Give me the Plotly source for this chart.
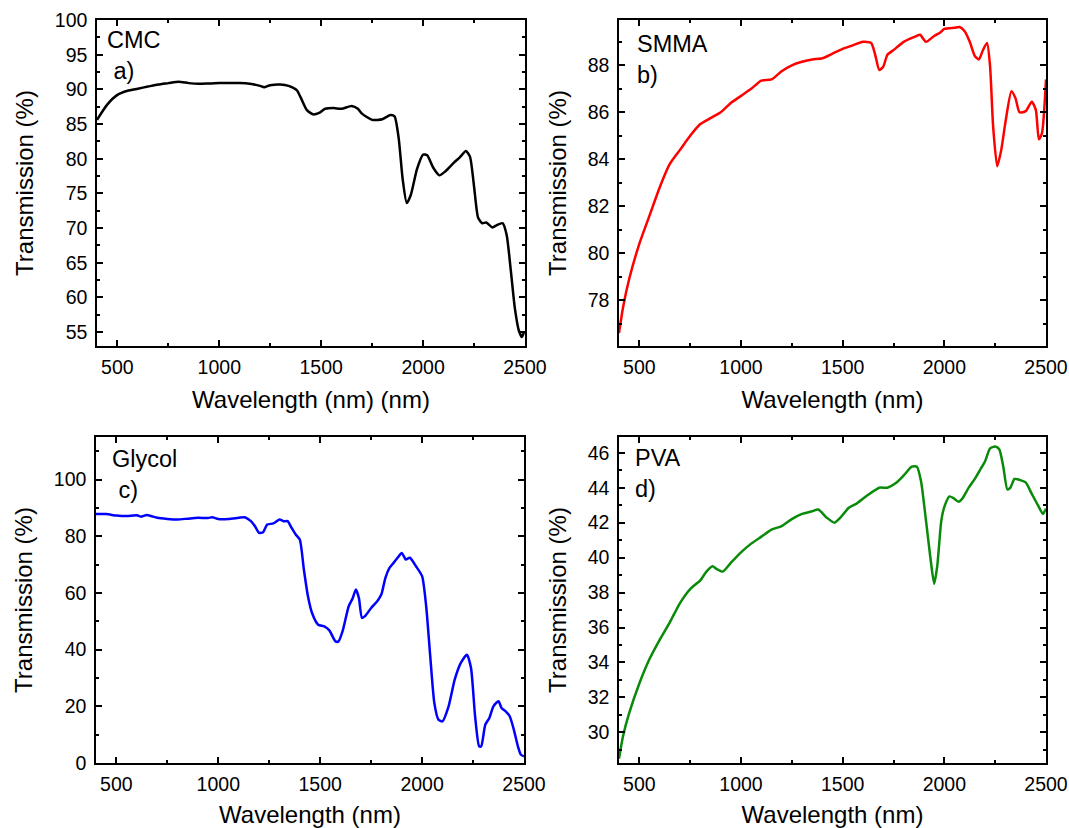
import plotly.graph_objects as go

# ---------------- data ----------------
cmc_wl = [400, 450, 500, 550, 600, 650, 700, 750, 800, 850, 900, 950, 1000, 1100, 1150, 1200, 1220,
          1250, 1300, 1340, 1380, 1400, 1430, 1460, 1490, 1520, 1560, 1600, 1650, 1680, 1700, 1750,
          1800, 1840, 1860, 1880, 1900, 1920, 1940, 1970, 2000, 2020, 2050, 2080, 2110, 2150, 2180,
          2210, 2230, 2250, 2270, 2290, 2310, 2340, 2360, 2390, 2410, 2430, 2450, 2470, 2485, 2495]
cmc_t = [85.6, 87.8, 89.2, 89.8, 90.1, 90.4, 90.7, 90.9, 91.1, 90.9, 90.8, 90.85, 90.9, 90.9, 90.8,
         90.5, 90.3, 90.6, 90.7, 90.5, 89.9, 88.8, 87.0, 86.4, 86.6, 87.2, 87.3, 87.2, 87.6, 87.2,
         86.5, 85.6, 85.7, 86.3, 86.1, 83.0, 77.0, 73.6, 74.8, 78.5, 80.6, 80.5, 78.7, 77.6, 78.2,
         79.4, 80.2, 81.1, 80.3, 76.0, 71.5, 70.7, 70.8, 70.1, 70.4, 70.7, 69.0, 64.0, 58.5, 55.2,
         54.3, 55.0]

smma_wl = [400, 420, 450, 500, 550, 600, 650, 700, 750, 800, 850, 900, 950, 1000, 1050, 1100, 1150,
           1200, 1250, 1300, 1350, 1400, 1450, 1500, 1550, 1600, 1640, 1660, 1680, 1700, 1720, 1750,
           1800, 1850, 1880, 1910, 1950, 1980, 2000, 2050, 2075, 2100, 2125, 2150, 2170, 2190, 2210,
           2225, 2240, 2260, 2280, 2300, 2330, 2350, 2370, 2400, 2430, 2450, 2465, 2480, 2500]
smma_t = [76.6, 77.7, 78.9, 80.4, 81.6, 82.8, 83.8, 84.4, 85.0, 85.5, 85.75, 86.0, 86.4, 86.7, 87.0,
          87.35, 87.4, 87.75, 88.0, 88.15, 88.25, 88.3, 88.5, 88.7, 88.85, 89.0, 88.95, 88.45, 87.8,
          87.95, 88.45, 88.65, 89.0, 89.2, 89.3, 89.0, 89.25, 89.4, 89.55, 89.6, 89.63, 89.45, 89.0,
          88.4, 88.25, 88.65, 88.95, 87.95, 85.4, 83.7, 84.4, 85.55, 86.9, 86.6, 86.0, 86.05, 86.45,
          86.1, 84.85, 85.1, 87.4]

glycol_wl = [400, 450, 500, 550, 600, 620, 650, 700, 750, 800, 850, 900, 950, 970, 1000, 1050, 1100,
             1130, 1160, 1180, 1200, 1220, 1240, 1270, 1300, 1320, 1340, 1360, 1380, 1400, 1420, 1440,
             1460, 1490, 1520, 1545, 1575, 1590, 1610, 1640, 1660, 1675, 1690, 1705, 1720, 1750, 1780,
             1800, 1820, 1840, 1860, 1880, 1900, 1920, 1940, 1970, 2000, 2020, 2040, 2060, 2080, 2100,
             2130, 2160, 2190, 2220, 2240, 2260, 2280, 2290, 2310, 2330, 2350, 2375, 2390, 2410, 2430,
             2450, 2470, 2485, 2500]
glycol_t = [87.8, 87.8, 87.3, 87.1, 87.4, 86.9, 87.5, 86.5, 86.1, 85.9, 86.2, 86.5, 86.4, 86.7, 86.1,
            86.1, 86.5, 86.7, 85.3, 83.5, 81.2, 81.4, 84.1, 84.5, 85.9, 85.3, 85.3, 82.9, 80.6, 78.8,
            68.2, 58.8, 52.9, 48.8, 48.2, 46.8, 42.9, 42.9, 46.5, 55.3, 58.2, 61.2, 58.2, 51.2, 51.8,
            54.7, 57.1, 59.4, 65.3, 68.8, 70.6, 72.4, 74.1, 71.8, 72.4, 69.4, 65.9, 55.3, 37.6, 21.2,
            15.3, 14.7, 20.0, 29.4, 35.3, 38.2, 33.5, 16.5, 5.9, 5.9, 13.5, 15.9, 20.0, 21.8, 19.4,
            18.2, 16.5, 11.8, 5.9, 2.9, 2.4]

pva_wl = [400, 420, 450, 500, 550, 600, 650, 700, 750, 800, 830, 860, 880, 910, 950, 1000, 1050, 1100,
          1150, 1200, 1250, 1300, 1350, 1380, 1420, 1460, 1490, 1530, 1570, 1620, 1680, 1720, 1760,
          1800, 1840, 1865, 1885, 1910, 1935, 1950, 1965, 1985, 2000, 2025, 2045, 2070, 2090, 2120,
          2150, 2180, 2200, 2225, 2250, 2270, 2290, 2310, 2325, 2345, 2370, 2400, 2430, 2460, 2485,
          2500]
pva_t = [28.5, 29.8, 31.1, 32.8, 34.2, 35.3, 36.3, 37.4, 38.2, 38.7, 39.2, 39.5, 39.35, 39.2, 39.7,
         40.3, 40.8, 41.2, 41.6, 41.8, 42.2, 42.5, 42.65, 42.75, 42.3, 42.0, 42.3, 42.85, 43.1, 43.55,
         44.0, 44.0, 44.25, 44.7, 45.2, 45.2, 44.4, 42.1, 39.65, 38.5, 39.5, 42.1, 42.9, 43.5, 43.4,
         43.2, 43.4, 44.0, 44.5, 45.1, 45.5, 46.25, 46.35, 46.2, 45.2, 43.9, 44.0, 44.5, 44.45, 44.3,
         43.65, 43.0, 42.5, 42.8]

panel_names = ["CMC", "SMMA", "Glycol", "PVA"]
panel_letters = ["\u00a0a)", "b)", "\u00a0c)", "d)"]
x_titles = ["Wavelength (nm) (nm)", "Wavelength (nm)", "Wavelength (nm)", "Wavelength (nm)"]
y_title = "Transmission (%)"

# ---------------- figure ----------------
W, H = 1069, 828
FONT = "Arial, Liberation Sans, sans-serif"

# plot-area pixel boxes (left, right, top, bottom)
boxes = [(97, 525, 20, 346), (619, 1046, 20, 346), (96, 524, 437, 763), (619, 1046, 437, 763)]
y_ranges = [[53, 100], [76.05, 89.93], [0, 115], [28.25, 46.9]]
y_dticks = [5, 2, 20, 2]
colors = ["#000000", "#ff0000", "#0000ff", "#0a8a0a"]
series = [(cmc_wl, cmc_t), (smma_wl, smma_t), (glycol_wl, glycol_t), (pva_wl, pva_t)]
label_shift = [(8, -5), (16, -9), (14, -7), (14, -6)]

fig = go.Figure()
layout = dict(width=W, height=H, margin=dict(l=0, r=0, t=0, b=0),
              paper_bgcolor="white", plot_bgcolor="white", showlegend=False,
              font=dict(family=FONT, color="black"))
annotations = []
for i in range(4):
    l, r, t, b = boxes[i]
    xa = "xaxis" if i == 0 else f"xaxis{i+1}"
    ya = "yaxis" if i == 0 else f"yaxis{i+1}"
    xr = "x" if i == 0 else f"x{i+1}"
    yr = "y" if i == 0 else f"y{i+1}"
    wl, tv = series[i]
    fig.add_trace(go.Scatter(x=wl, y=tv, mode="lines", xaxis=xr, yaxis=yr,
                             line=dict(color=colors[i], width=2.5, shape="spline", smoothing=0.6)))
    common = dict(showline=True, linecolor="black", linewidth=1.5, mirror="ticks",
                  ticks="inside", ticklen=6, tickwidth=1.5, tickcolor="black",
                  showgrid=False, zeroline=False, automargin=False,
                  tickfont=dict(size=19.5, family=FONT, color="black"))
    layout[xa] = dict(domain=[l / W, r / W], anchor=yr, range=[400, 2500], tick0=0, dtick=500,
                      ticklabelstandoff=3,
                      minor=dict(dtick=250, tick0=0, ticks="inside", ticklen=3, tickwidth=1.5,
                                 tickcolor="black"),
                      title=dict(text=x_titles[i], font=dict(size=24, family=FONT), standoff=14),
                      **common)
    dt = y_dticks[i]
    layout[ya] = dict(domain=[1 - b / H, 1 - t / H], anchor=xr, range=y_ranges[i], tick0=0, dtick=dt,
                      ticklabelstandoff=4,
                      minor=dict(dtick=dt / 2, tick0=0, ticks="inside", ticklen=3, tickwidth=1.5,
                                 tickcolor="black"),
                      title=dict(text=y_title, font=dict(size=24, family=FONT), standoff=14),
                      **common)
    sx, sy = label_shift[i]
    annotations.append(dict(text=panel_names[i] + "<br>" + panel_letters[i], xref=f"{xr} domain",
                            yref=f"{yr} domain", x=0, y=1, xanchor="left", yanchor="top",
                            align="left", showarrow=False, xshift=sx, yshift=sy,
                            font=dict(size=23.5, family=FONT, color="black")))
layout["annotations"] = annotations
fig.update_layout(**layout)
fig.write_html("out.html")
